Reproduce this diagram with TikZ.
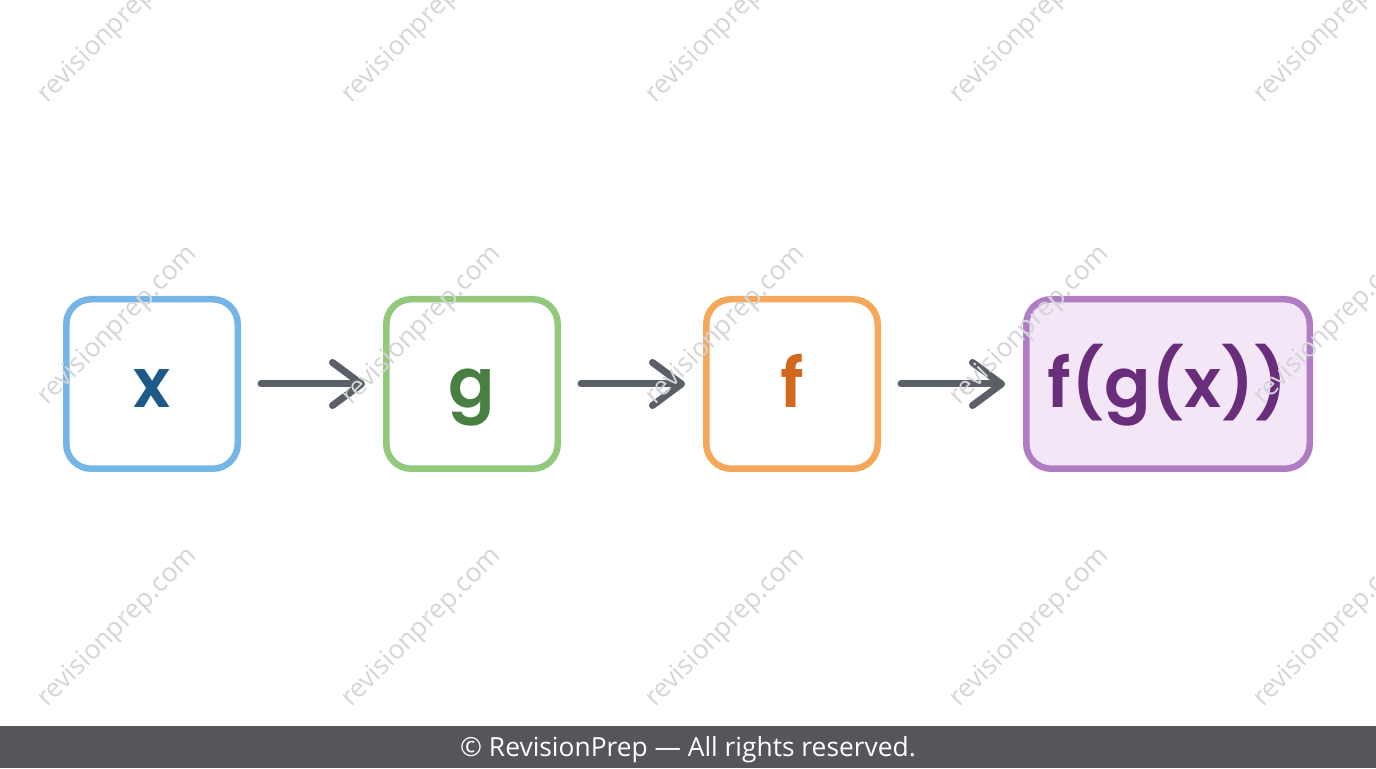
\documentclass[tikz,border=0pt]{standalone}
\usepackage{fontspec}
\setmainfont{Open Sans}
\newfontfamily\etichetta{Poppins}[UprightFont=* SemiBold]
\usetikzlibrary{arrows.meta}
\definecolor{bordox}{HTML}{74B6E8}
\definecolor{testox}{HTML}{1D5A8A}
\definecolor{bordog}{HTML}{93C97A}
\definecolor{testog}{HTML}{4A7F44}
\definecolor{bordof}{HTML}{F5A85A}
\definecolor{testof}{HTML}{D0691E}
\definecolor{bordofg}{HTML}{B07CC3}
\definecolor{fondofg}{HTML}{F3E6F7}
\definecolor{testofg}{HTML}{6A2D7C}
\definecolor{freccia}{HTML}{5A5F68}
\definecolor{filigrana}{HTML}{D4D4D9}
\definecolor{barra}{HTML}{55565B}
\tikzset{
  scatola/.style={draw, fill=white, rounded corners=0.5cm, line width=0.13cm,
    minimum width=3.43cm, minimum height=3.39cm, inner sep=0pt,
    text height=0.96cm, text depth=0cm, font=\etichetta\fontsize{39}{43}\selectfont},
  passo/.style={draw=freccia, line width=0.14cm, line cap=round,
    -{Straight Barb[length=0.58cm, width=0.86cm, round]},
    shorten <=0.4cm, shorten >=0.36cm}
}

\begin{document}
\begin{tikzpicture}
    \useasboundingbox (0,0) rectangle (27.52,15.36);
    % Disegna la barra in basso
    \fill[barra] (0,0) rectangle (27.52,0.84);
    \node[text=white, font=\fontsize{15}{18}\selectfont] (diritti) at (13.76,0.37) {© RevisionPrep — All rights reserved.};
    % Disegna le scatole
    \node[scatola, draw=bordox, text=testox] (x) at (3.04,7.68) {x};
    \node[scatola, draw=bordog, text=testog] (g) at (9.44,7.68) {g};
    \node[scatola, draw=bordof, text=testof] (f) at (15.84,7.68) {f};
    \node[scatola, draw=bordofg, fill=fondofg, text=testofg, minimum width=5.67cm] (fg) at (23.36,7.68) {f(g(x))};
    % Disegna le frecce
    \draw[passo] (x) -- (g);
    \draw[passo] (g) -- (f);
    \draw[passo] (f) -- (fg);
    % Disegna la filigrana
    \foreach \px in {2.36,8.44,14.52,20.60,26.68}
      \foreach \py in {2.80,8.84,14.88}
        \node[rotate=45, text=filigrana, font=\fontsize{15}{18}\selectfont] at (\px,\py) {revisionprep.com};
\end{tikzpicture}
\end{document}
